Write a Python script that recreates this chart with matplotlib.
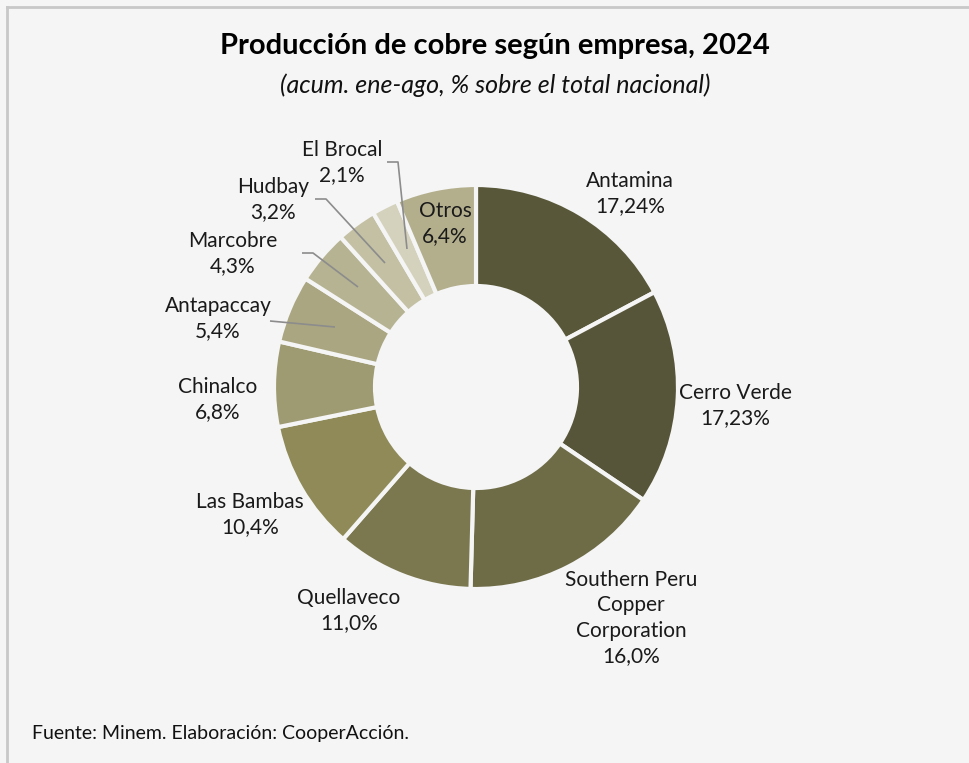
import matplotlib
matplotlib.use("Agg")
import matplotlib.pyplot as plt
from matplotlib.lines import Line2D

plt.rcParams['font.family'] = ['Lato', 'DejaVu Sans']

# data (% sobre el total nacional)
empresas = ["Antamina", "Cerro Verde", "Southern Peru\nCopper\nCorporation", "Quellaveco",
            "Las Bambas", "Chinalco", "Antapaccay", "Marcobre", "Hudbay", "El Brocal", "Otros"]
valores = [17.24, 17.23, 16.0, 11.0, 10.4, 6.8, 5.4, 4.3, 3.2, 2.1, 6.4]
etiquetas = ["17,24%", "17,23%", "16,0%", "11,0%", "10,4%", "6,8%", "5,4%", "4,3%", "3,2%", "2,1%", "6,4%"]
colores = ["#585739", "#575539", "#6e6b47", "#7b7850", "#8f8a58", "#9e9a71",
           "#aaa681", "#b6b392", "#c3c0a4", "#d4d2bc", "#b3ae8c"]

BG = "#f4f5f4"
W, H = 969, 763
fig = plt.figure(figsize=(W / 100, H / 100), dpi=100, facecolor=BG)

# frame lines (top and left, as in the cropped source)
fig.add_artist(Line2D([7 / W, 1], [1 - 7 / H, 1 - 7 / H], color="#c8c8c8", lw=2))
fig.add_artist(Line2D([7 / W, 7 / W], [0, 1 - 7 / H], color="#c8c8c8", lw=2))

# axes in pixel units, centre of donut at (476, 387)
cx, cy, half = 476, 387, 300
ax = fig.add_axes([(cx - half) / W, 1 - (cy + half) / H, 2 * half / W, 2 * half / H])

R = 202
ax.pie(valores, colors=colores, startangle=90, counterclock=False, radius=R,
       wedgeprops=dict(width=101, edgecolor=BG, linewidth=3))
ax.set_xlim(-half, half)
ax.set_ylim(-half, half)
ax.set_aspect("equal")
ax.axis("off")


def px(x, y):
    return x - cx, cy - y


# label centres in pixels of the source image
label_pos = [(630, 194), (735, 406), (631, 618), (349, 611), (250, 515), (218, 400),
             (218, 319), (233, 254), (273, 200), (342, 163), (445, 224)]
for nombre, et, (lx, ly) in zip(empresas, etiquetas, label_pos):
    ax.text(*px(lx, ly), nombre + "\n" + et, ha="center", va="center",
            fontsize=15, color="#1a1a1a", linespacing=1.32)

# leader lines for the small slices
leaders = [
    [(387, 162), (398, 162), (407, 249)],
    [(315, 199), (326, 199), (385, 263)],
    [(302, 253), (313, 253), (358, 287)],
    [(270, 321), (335, 327)],
]
for pts in leaders:
    xs, ys = zip(*[px(x, y) for x, y in pts])
    ax.plot(xs, ys, color="#8c8c8c", lw=1.2, solid_capstyle="butt")

fig.text(495 / W, 1 - 46 / H, "Producción de cobre según empresa, 2024",
         ha="center", va="center", fontsize=21, fontweight="bold", color="#000000")
fig.text(495 / W, 1 - 85 / H, "(acum. ene-ago, % sobre el total nacional)",
         ha="center", va="center", fontsize=18, style="italic", color="#111111")
fig.text(32 / W, 1 - 733 / H, "Fuente: Minem. Elaboración: CooperAcción.",
         ha="left", va="center", fontsize=14, color="#111111")

fig.savefig("out.png", dpi=100, facecolor=BG)
